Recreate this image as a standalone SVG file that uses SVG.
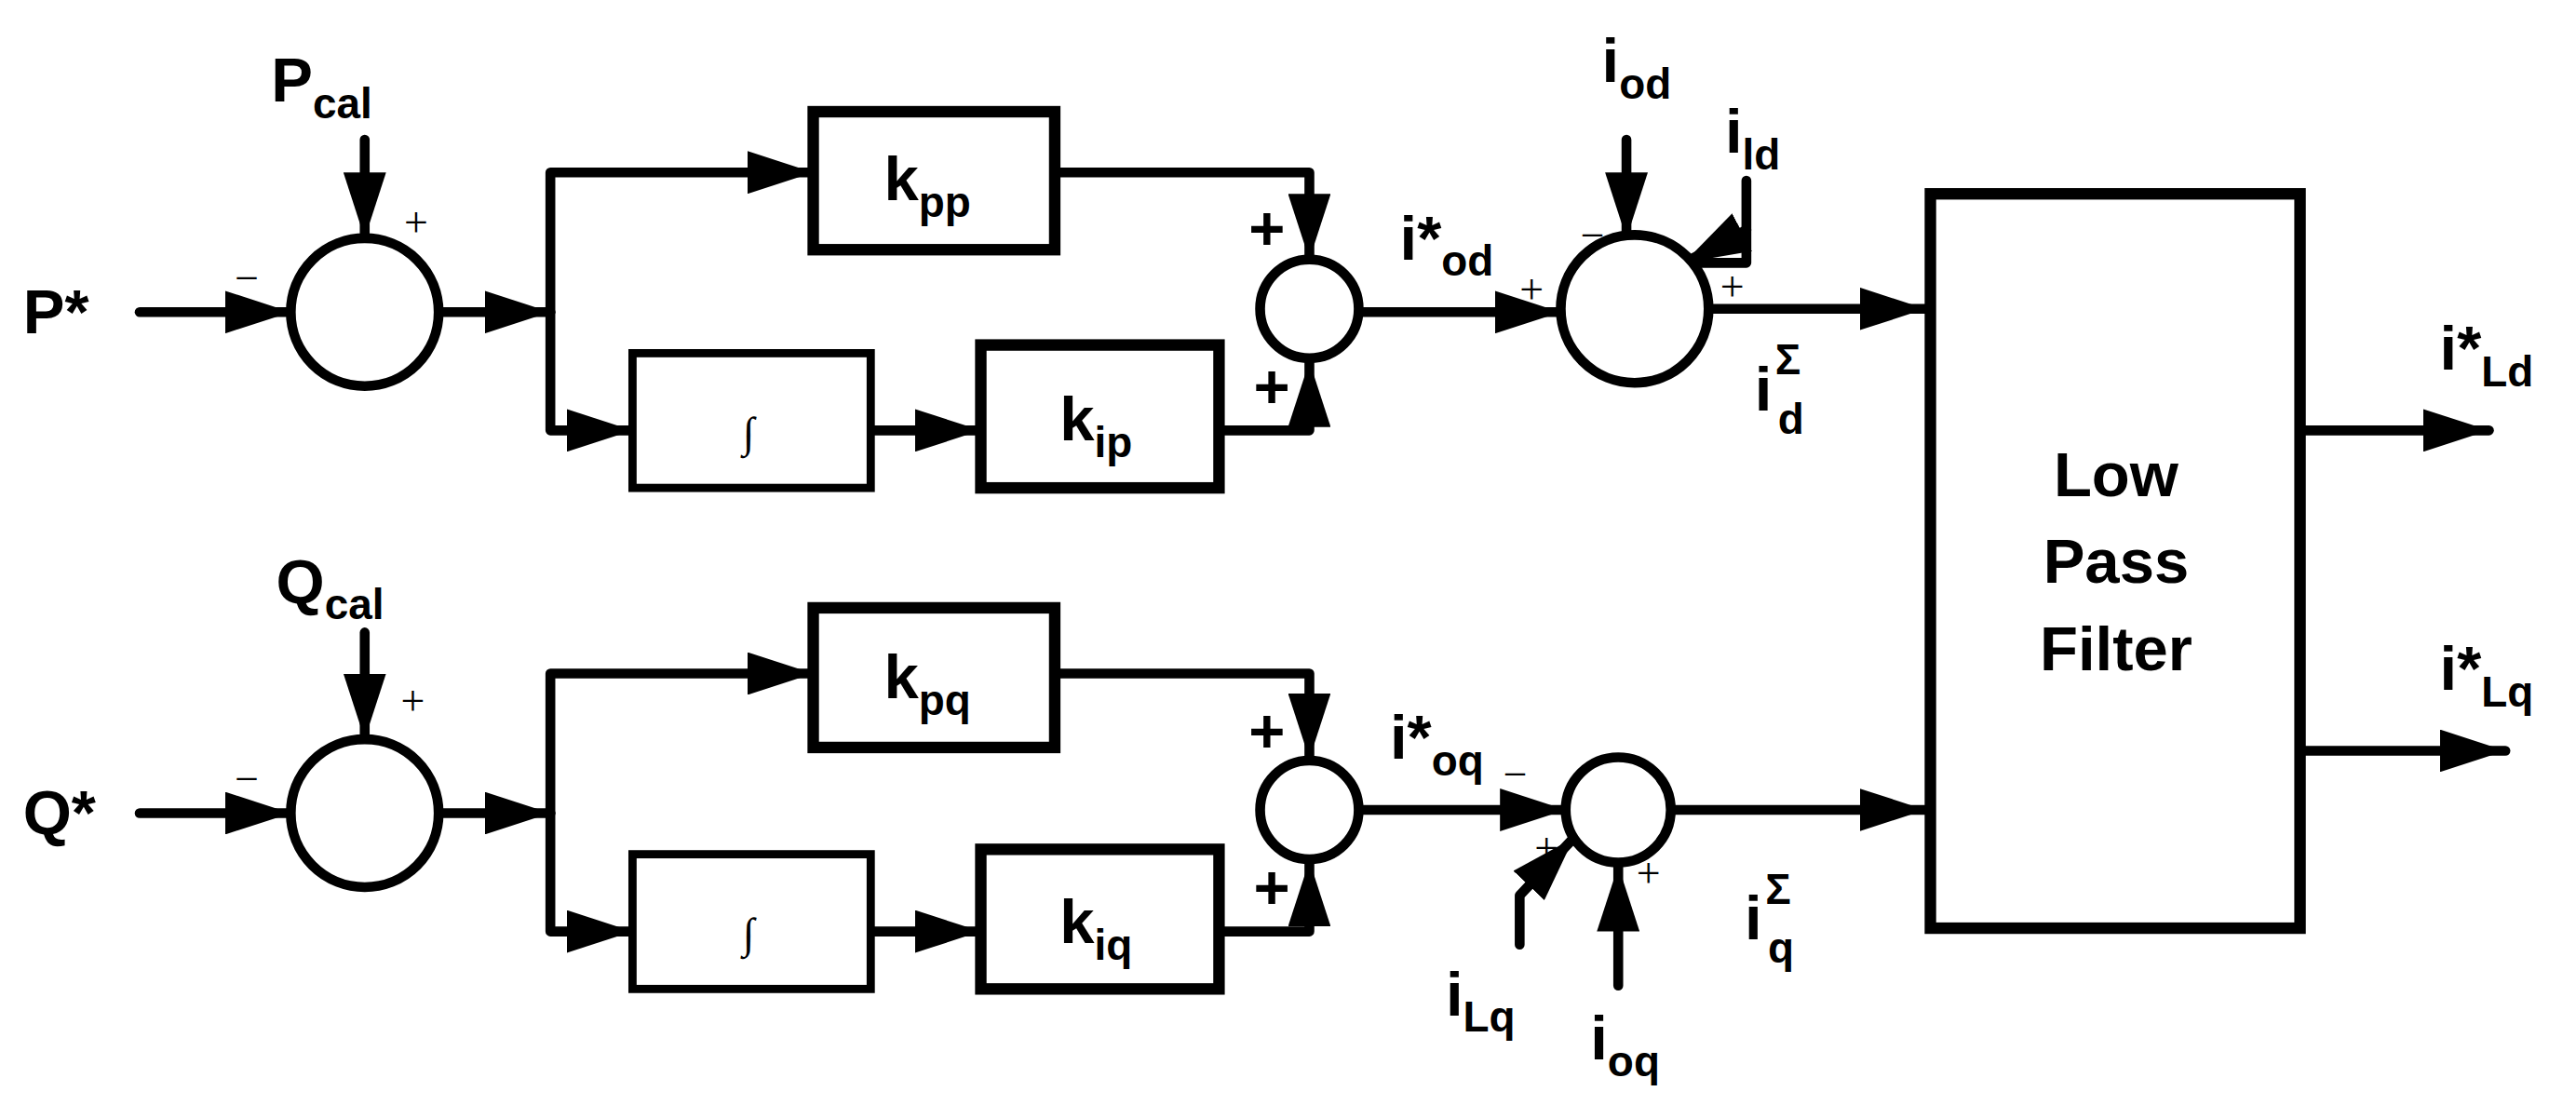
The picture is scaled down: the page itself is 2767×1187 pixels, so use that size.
<svg xmlns="http://www.w3.org/2000/svg" width="2767" height="1187" viewBox="0 0 2767 1187">
<style>
.l{fill:none;stroke:#000;stroke-width:6;stroke-linecap:round;stroke-linejoin:round}
.b{fill:#fff;stroke:#000;stroke-width:7}
.b2{fill:#fff;stroke:#000;stroke-width:5}
.c{fill:#fff;stroke:#000;stroke-width:6}
text{font-family:"Liberation Sans",Arial,sans-serif;font-weight:bold;fill:#000}
.t{font-size:38px}
.s{font-size:26px}
.p{font-family:"Liberation Serif",serif;font-weight:normal;font-size:26px}
</style>
<defs>
<marker id="a" viewBox="0 0 40 26" refX="40" refY="13" markerWidth="40" markerHeight="26" markerUnits="userSpaceOnUse" orient="auto">
<path d="M0,0L40,13L0,26z" fill="#000"/>
</marker>
</defs>
<rect width="2767" height="1187" fill="#fff"/>
<g transform="scale(1.7647)">
<g id="connectors">
<path class="l" d="M85,190H177" marker-end="url(#a)"/>
<path class="l" d="M222,85V145" marker-end="url(#a)"/>
<path class="l" d="M267,190H335"  marker-end="url(#a)"/>
<path class="l" d="M335,190V105H495" marker-end="url(#a)"/>
<path class="l" d="M335,190V262H385" marker-end="url(#a)"/>
<path class="l" d="M530,262H597" marker-end="url(#a)"/>
<path class="l" d="M642,105H797V158" marker-end="url(#a)"/>
<path class="l" d="M742,262H797V220" marker-end="url(#a)"/>
<path class="l" d="M828,190H950" marker-end="url(#a)"/>
<path class="l" d="M990,85V145" marker-end="url(#a)"/>
<path class="l" d="M1063,110V160L1024,160" />
<path class="l" d="M1063,140L1025,160" marker-end="url(#a)"/>
<path class="l" d="M1040,188H1172" marker-end="url(#a)"/>
<path class="l" d="M1400,262H1515" marker-end="url(#a)"/>
<path class="l" d="M1400,457H1525" marker-end="url(#a)"/>

<path class="l" d="M85,495H177" marker-end="url(#a)"/>
<path class="l" d="M222,385V450" marker-end="url(#a)"/>
<path class="l" d="M267,495H335" marker-end="url(#a)"/>
<path class="l" d="M335,495V410H495" marker-end="url(#a)"/>
<path class="l" d="M335,495V567H385" marker-end="url(#a)"/>
<path class="l" d="M530,567H597" marker-end="url(#a)"/>
<path class="l" d="M642,410H797V462" marker-end="url(#a)"/>
<path class="l" d="M742,567H797V524" marker-end="url(#a)"/>
<path class="l" d="M828,493H953" marker-end="url(#a)"/>
<path class="l" d="M925,575V545L958,510" marker-end="url(#a)"/>
<path class="l" d="M985,600V527" marker-end="url(#a)"/>
<path class="l" d="M1018,493H1172" marker-end="url(#a)"/>
</g>
<g id="sum1"><circle class="c" cx="222" cy="190" r="45"/></g>
<g id="sum2"><circle class="c" cx="797" cy="188" r="30"/></g>
<g id="sum3"><circle class="c" cx="995" cy="188" r="45"/></g>
<g id="sum4"><circle class="c" cx="222" cy="495" r="45"/></g>
<g id="sum5"><circle class="c" cx="797" cy="493" r="30"/></g>
<g id="sum6"><circle class="c" cx="985" cy="493" r="32"/></g>
<g id="kpp"><rect class="b" x="495" y="68" width="147" height="84"/><text class="t" x="538" y="122">k<tspan class="s" dy="10">pp</tspan></text></g>
<g id="int1"><rect class="b2" x="385" y="215" width="145" height="82"/><text class="p" x="452" y="272">∫</text></g>
<g id="kip"><rect class="b" x="597" y="210" width="145" height="87"/><text class="t" x="645" y="268">k<tspan class="s" dy="10">ip</tspan></text></g>
<g id="kpq"><rect class="b" x="495" y="370" width="147" height="85"/><text class="t" x="538" y="425">k<tspan class="s" dy="10">pq</tspan></text></g>
<g id="int2"><rect class="b2" x="385" y="520" width="145" height="82"/><text class="p" x="452" y="577">∫</text></g>
<g id="kiq"><rect class="b" x="597" y="517" width="145" height="85"/><text class="t" x="645" y="574">k<tspan class="s" dy="10">iq</tspan></text></g>
<g id="lpf"><rect class="b" x="1175" y="118" width="225" height="447"/>
<text class="t" text-anchor="middle" x="1288" y="302">Low</text>
<text class="t" text-anchor="middle" x="1288" y="355">Pass</text>
<text class="t" text-anchor="middle" x="1288" y="408">Filter</text></g>
<g id="labels">
<text class="t" x="14" y="203">P*</text>
<text class="t" x="14" y="508">Q*</text>
<text class="t" x="165" y="62">P<tspan class="s" dy="10">cal</tspan></text>
<text class="t" x="168" y="367">Q<tspan class="s" dy="10">cal</tspan></text>
<text class="p" x="246" y="144">+</text>
<text class="p" x="244" y="435">+</text>
<text class="p" x="143" y="178">−</text>
<text class="p" x="143" y="483">−</text>
<text class="t" x="760" y="152">+</text>
<text class="t" x="763" y="248">+</text>
<text class="t" x="760" y="458">+</text>
<text class="t" x="763" y="553">+</text>
<text class="t" x="852" y="158">i*<tspan class="s" dy="10">od</tspan></text>
<text class="t" x="846" y="462">i*<tspan class="s" dy="10">oq</tspan></text>
<text class="t" x="975" y="50">i<tspan class="s" dy="10">od</tspan></text>
<text class="t" x="1050" y="93">i<tspan class="s" dy="10">ld</tspan></text>
<text class="p" x="925" y="185">+</text>
<text class="p" x="962" y="152">−</text>
<text class="p" x="1047" y="183">+</text>
<text class="p" x="915" y="480">−</text>
<text class="p" x="934" y="525">+</text>
<text class="p" x="996" y="540">+</text>
<text class="t" x="1068" y="250">i<tspan class="s" dx="2" dy="-22">Σ</tspan><tspan class="s" dx="-14" dy="36">d</tspan></text>
<text class="t" x="1062" y="572">i<tspan class="s" dx="2" dy="-22">Σ</tspan><tspan class="s" dx="-14" dy="36">q</tspan></text>
<text class="t" x="880" y="618">i<tspan class="s" dy="10">Lq</tspan></text>
<text class="t" x="968" y="645">i<tspan class="s" dy="10">oq</tspan></text>
<text class="t" x="1485" y="225">i*<tspan class="s" dy="10">Ld</tspan></text>
<text class="t" x="1485" y="420">i*<tspan class="s" dy="10">Lq</tspan></text>
</g>
</g>
</svg>
